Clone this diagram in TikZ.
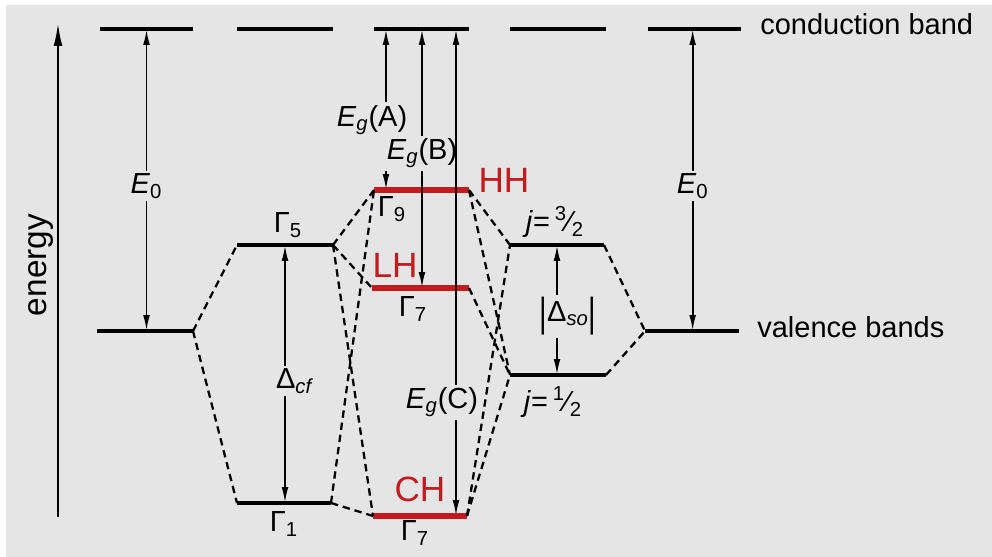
\documentclass[tikz,border=0pt]{standalone}
\usepackage{fontspec}
\setmainfont{Liberation Sans}
\usepackage{xcolor}
\usepackage{tikz}
\usetikzlibrary{arrows.meta,calc,positioning}

\definecolor{panelgray}{RGB}{229,229,229}
\definecolor{holered}{RGB}{196,26,30}

\begin{document}
\begin{tikzpicture}[
  x=0.02cm, y=-0.02cm,
  level/.style={line width=1.9pt},
  redlevel/.style={line width=3pt, draw=holered},
  mix/.style={line width=1.3pt, dash pattern=on 4.2pt off 2.8pt},
  gaparr/.style={{Latex[length=9pt,width=3.8pt]}-{Latex[length=9pt,width=3.8pt]}, line width=1.1pt},
  lab/.style={fill=panelgray, inner sep=1.5pt, font=\fontsize{16.5}{18}\selectfont},
  sym/.style={inner sep=0pt, font=\fontsize{16.5}{18}\selectfont},
  redlab/.style={inner sep=0pt, text=holered, font=\fontsize{20}{22}\selectfont},
  bandtxt/.style={inner sep=0pt, font=\fontsize{16.5}{18}\selectfont}
]

% panel
\fill[white] (0,0) rectangle (992,557);
\fill[panelgray] (6,5) rectangle (992,557);

% energy axis
\draw[line width=1.2pt, -{Latex[length=13pt,width=5pt]}] (58,517) -- (58,23);
\node[bandtxt, font=\fontsize{19}{21}\selectfont, rotate=90, anchor=base] (energy) at (47,265) {energy};

% conduction band
\draw[level] (100,29) coordinate (cb1L) -- (193,29) coordinate (cb1R);
\draw[level] (237,29) coordinate (cb2L) -- (333,29) coordinate (cb2R);
\draw[level] (374,29) coordinate (cb3L) -- (469,29) coordinate (cb3R);
\draw[level] (510,29) coordinate (cb4L) -- (606,29) coordinate (cb4R);
\draw[level] (648,29) coordinate (cb5L) -- (741,29) coordinate (cb5R);

% valence levels
\draw[level] (97,331) coordinate (vbL) -- (193,331) coordinate (vbR);
\draw[level] (237,245) coordinate (g5L) -- (333,245) coordinate (g5R);
\draw[level] (237,503) coordinate (g1L) -- (331,503) coordinate (g1R);
\draw[redlevel] (374,190) coordinate (hhL) -- (469,190) coordinate (hhR);
\draw[redlevel] (372,288) coordinate (lhL) -- (469,288) coordinate (lhR);
\draw[redlevel] (373,516) coordinate (chL) -- (467,516) coordinate (chR);
\draw[level] (510,245) coordinate (jaL) -- (604,245) coordinate (jaR);
\draw[level] (510,375) coordinate (jbL) -- (606,375) coordinate (jbR);
\draw[level] (645,331) coordinate (vrL) -- (739,331) coordinate (vrR);

% splitting
\draw[mix] (vbR) -- (g5L);
\draw[mix] (vbR) -- (g1L);
\draw[mix] (g5R) -- (hhL);
\draw[mix] (g5R) -- (lhL);
\draw[mix] (g5R) -- (chL);
\draw[mix] (g1R) -- (chL);
\draw[mix] (g1R) -- (hhL);
\draw[mix] (hhR) -- (jaL);
\draw[mix] (hhR) -- (jbL);
\draw[mix] (lhR) -- (jbL);
\draw[mix] (chR) -- (jaL);
\draw[mix] (chR) -- (jbL);
\draw[mix] (jaR) -- (vrL);
\draw[mix] (jbR) -- (vrL);

% gaps
\coordinate (e0a) at ($(cb1L)!.5!(cb1R)$);
\coordinate (e0b) at ($(cb5L)!.48!(cb5R)$);
\coordinate (egA) at ($(cb3L)!.126!(cb3R)$);
\coordinate (egB) at ($(cb3L)!.505!(cb3R)$);
\coordinate (egC) at ($(cb3L)!.863!(cb3R)$);
\coordinate (dcf) at ($(g5L)!.5!(g5R)$);
\coordinate (dso) at ($(jaL)!.5!(jaR)$);

\draw[gaparr] (e0a) -- (e0a |- vbL) node[lab, pos=.52] (e0lab) {\textit{E}\textsubscript{0}};
\draw[gaparr] (e0b) -- (e0b |- vrL) node[lab, pos=.52] (e0rlab) {\textit{E}\textsubscript{0}};
\draw[gaparr] (egA) -- (egA |- hhL) node[lab, pos=.565, xshift=-0.28cm] (egAlab) {\textit{E}\textsubscript{\textit{g}}(A)};
\draw[gaparr] (egB) -- (egB |- lhL) node[lab, pos=.48] (egBlab) {\textit{E}\textsubscript{\textit{g}}(B)};
\draw[gaparr] (egC) -- (egC |- chL) node[lab, pos=.766, xshift=-0.28cm] (egClab) {\textit{E}\textsubscript{\textit{g}}(C)};
\draw[gaparr] (dcf) -- (dcf |- g1L) node[lab, pos=.527, xshift=0.2cm] (dcflab) {Δ\textsubscript{\textit{cf}}};
\draw[gaparr] (dso) -- (dso |- jbL) node[lab, pos=.55, xshift=0.22cm] (dsolab)
  {\raisebox{-0.2em}{\scalebox{1}[1.4]{|}}Δ\textsubscript{\textit{so}}\raisebox{-0.2em}{\scalebox{1}[1.4]{|}}};

% symmetry labels
\node[sym, anchor=base] (g5lab) at (288,233) {Γ\textsubscript{5}};
\node[sym, anchor=base] (g1lab) at (284,532) {Γ\textsubscript{1}};
\node[sym, anchor=base] (g9lab) at (392,217) {Γ\textsubscript{9}};
\node[sym, anchor=base] (g7alab) at (413,317) {Γ\textsubscript{7}};
\node[sym, anchor=base] (g7blab) at (415,541) {Γ\textsubscript{7}};
\node[redlab, anchor=base] (hhlab) at (504,193) {HH};
\node[redlab, anchor=base] (lhlab) at (395,278) {LH};
\node[redlab, anchor=base] (chlab) at (420,502) {CH};
\node[sym] (jalab) at (555,222) {\textit{j}=\,\textsuperscript{3}⁄\textsubscript{2}};
\node[sym] (jblab) at (553,402) {\textit{j}=\,\textsuperscript{1}⁄\textsubscript{2}};

% band names
\node[bandtxt, anchor=base west] (cbtxt) at ($(cb5R)+(19,6)$) {conduction band};
\node[bandtxt, anchor=base west] (vbtxt) at ($(vrR)+(18,7)$) {valence bands};

\end{tikzpicture}
\end{document}
